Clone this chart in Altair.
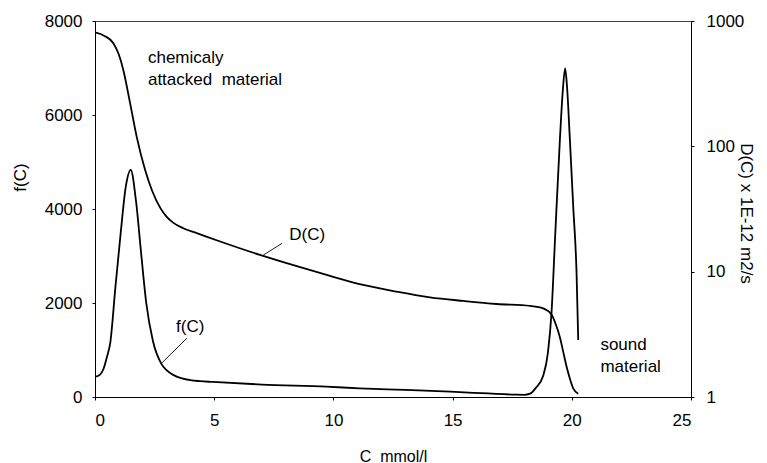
import altair as alt
import pandas as pd

# f(C) curve (left axis)
f_C = [0, 0.2, 0.36, 0.5, 0.64, 0.86, 1.07, 1.29, 1.5, 1.72, 1.93, 2.15, 2.43, 2.79, 3.0, 3.3,
       3.65, 4.0, 4.4, 4.95, 7.0, 9.7, 11.1, 13.0, 14.9, 16.5, 17.6, 18.0, 18.25, 18.5, 18.8,
       19.0, 19.15, 19.3, 19.5, 19.62, 19.72, 19.8, 19.92, 20.06, 20.2, 20.27]
f_val = [430, 470, 600, 850, 1150, 2360, 3450, 4470, 4830, 4170, 3085, 2000, 1190, 700, 570, 465,
         395, 358, 337, 320, 265, 220, 185, 150, 113, 75, 50, 45, 70, 200, 450,
         950, 1800, 3400, 5470, 6500, 6990, 6600, 5470, 4050, 2630, 1213]

# D(C) curve (right axis, log)
D_C = [0, 0.4, 0.77, 1.0, 1.19, 1.47, 1.75, 2.1, 2.4, 2.75, 3.0, 3.29, 3.7, 4.27, 5.25, 6.92, 8.5,
       9.86, 11.25, 12.65, 14.05, 15.45, 16.85, 18.25, 18.8, 19.15, 19.35, 19.5, 19.65, 19.78,
       19.92, 20.06, 20.27]
D_val = [810, 760, 665, 540, 405, 222, 119, 65, 44, 32, 27.5, 24.5, 22.2, 20.3, 17.4, 13.6, 11.0,
         9.25, 7.83, 6.92, 6.24, 5.84, 5.52, 5.33, 5.1, 4.55, 3.7, 3.0, 2.25, 1.75,
         1.4, 1.17, 1.06]

# annotations (in data units: C, f)
ann_text = ["chemicaly", "attacked\u00a0\u00a0material", "sound", "material", "D(C)", "f(C)"]
ann_C = [2.22, 2.22, 21.2, 21.2, 8.15, 3.4]
ann_f = [7210, 6740, 1110, 640, 3450, 1480]

lead_C = [7.85, 3.85]
lead_f = [3270, 1250]
lead_C2 = [7.06, 2.79]
lead_f2 = [3020, 717]

FONT = "Liberation Sans"
FS = 17

f_df = pd.DataFrame({"C": f_C, "f": f_val})
D_df = pd.DataFrame({"C": D_C, "D": D_val})
ann_df = pd.DataFrame({"C": ann_C, "f": ann_f, "t": ann_text})
lead_df = pd.DataFrame({"C": lead_C, "f": lead_f, "C2": lead_C2, "f2": lead_f2})

xscale = alt.Scale(domain=[0, 25], nice=False)
xaxis = alt.Axis(values=[0, 5, 10, 15, 20, 25], title="C\u00a0\u00a0mmol/l", grid=False,
                 labelFont=FONT, labelFontSize=FS, labelColor="black", labelPadding=12,
                 titleFont=FONT, titleFontSize=16, titleFontWeight="normal", titleColor="black",
                 titleY=59, titleBaseline="middle",
                 tickSize=3, tickColor="black", domainColor="black")
fscale = alt.Scale(domain=[0, 8000], nice=False)
faxis = alt.Axis(values=[0, 2000, 4000, 6000, 8000], format="d", title="f(C)", grid=False,
                 labelFont=FONT, labelFontSize=FS, labelColor="black", labelPadding=10,
                 titleFont=FONT, titleFontSize=FS, titleFontWeight="normal", titleColor="black",
                 titleX=-75, titleY=156, titleBaseline="middle", titleAlign="center",
                 tickSize=3, tickColor="black", domainColor="black")

f_line = alt.Chart(f_df).mark_line(color="black", strokeWidth=1.8, interpolate="monotone").encode(
    x=alt.X("C:Q", scale=xscale, axis=xaxis),
    y=alt.Y("f:Q", scale=fscale, axis=faxis),
)

ann = alt.Chart(ann_df).mark_text(align="left", baseline="middle", font=FONT, fontSize=FS,
                                  color="black").encode(
    x=alt.X("C:Q", scale=xscale), y=alt.Y("f:Q", scale=fscale), text="t:N")

lead = alt.Chart(lead_df).mark_rule(color="black", strokeWidth=0.9).encode(
    x=alt.X("C:Q", scale=xscale), y=alt.Y("f:Q", scale=fscale),
    x2="C2:Q", y2="f2:Q")

left = alt.layer(f_line, ann, lead)

D_line = alt.Chart(D_df).mark_line(color="black", strokeWidth=1.8, interpolate="monotone").encode(
    x=alt.X("C:Q", scale=xscale),
    y=alt.Y("D:Q", scale=alt.Scale(type="log", domain=[1, 1000], nice=False),
            axis=alt.Axis(orient="right", values=[1, 10, 100, 1000], format="d",
                          title="D(C) x 1E-12 m2/s", grid=False,
                          labelFont=FONT, labelFontSize=FS, labelColor="black", labelPadding=12,
                          titleFont=FONT, titleFontSize=FS, titleFontWeight="normal",
                          titleColor="black", titleX=54, titleY=192, titleBaseline="middle",
                          titleAlign="center",
                          tickSize=3, tickColor="black", domainColor="black")),
)

chart = alt.layer(left, D_line).resolve_scale(y="independent").properties(
    width=596, height=376,
    autosize=alt.AutoSizeParams(type="none"),
    padding={"left": 95, "top": 21, "right": 76, "bottom": 66},
    background="white",
).configure_view(stroke="#444", strokeWidth=1)

chart.save("out.html", embed_options={"renderer": "svg", "actions": False})
